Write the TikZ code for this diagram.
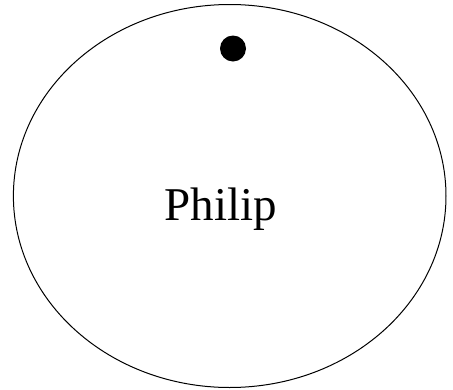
\documentclass[tikz,border=0pt]{standalone}
\usepackage{fontspec}
\setmainfont{Liberation Serif}
\usepackage{tikz}
\tikzset{outline/.style={draw=black,line width=1pt}}
\newcommand{\bigname}{\fontsize{47}{50}\selectfont}

\begin{document}
\begin{tikzpicture}[x=1pt,y=-1pt]
\useasboundingbox (0,0) rectangle (453,389);
\draw[outline] (229.7,196) ellipse [x radius=216.3, y radius=191.5];
\fill (233,48.5) circle (13);
\node[anchor=base,inner sep=0pt,font=\bigname] (philip) at (221,220.5) {Philip};
\end{tikzpicture}
\end{document}
